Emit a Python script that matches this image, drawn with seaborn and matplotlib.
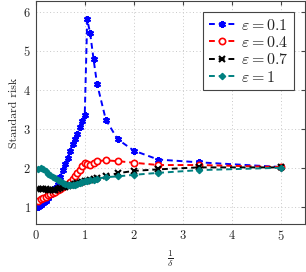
import numpy as np
import pandas as pd
import seaborn as sns
import matplotlib.pyplot as plt

# --- 1. data ---
inv_delta = [0.05, 0.1, 0.15, 0.2, 0.25, 0.3, 0.35, 0.4, 0.45, 0.5,
             0.55, 0.6, 0.65, 0.7, 0.75, 0.8, 0.85, 0.9, 0.95, 1.0,
             1.05, 1.11, 1.18, 1.25, 1.43, 1.67, 2.0, 2.5, 3.33, 5.0]

risk_eps_01 = [1.02, 1.06, 1.11, 1.17, 1.24, 1.31, 1.39, 1.50, 1.64, 1.78,
               1.95, 2.10, 2.25, 2.43, 2.62, 2.75, 2.88, 3.05, 3.20, 3.37,
               5.80, 5.45, 4.78, 4.16, 3.24, 2.74, 2.45, 2.22, 2.15, 2.03]
risk_eps_04 = [1.15, 1.20, 1.23, 1.27, 1.31, 1.35, 1.37, 1.40, 1.44, 1.48,
               1.52, 1.56, 1.60, 1.64, 1.72, 1.80, 1.88, 1.95, 2.05, 2.12,
               2.10, 2.08, 2.13, 2.18, 2.20, 2.18, 2.14, 2.08, 2.08, 2.03]
risk_eps_07 = [1.47, 1.48, 1.47, 1.46, 1.45, 1.44, 1.44, 1.45, 1.47, 1.49,
               1.51, 1.52, 1.54, 1.56, 1.57, 1.59, 1.61, 1.63, 1.65, 1.67,
               1.68, 1.70, 1.72, 1.74, 1.80, 1.87, 1.93, 1.97, 2.02, 2.02]
risk_eps_1 = [1.98, 2.01, 1.97, 1.92, 1.86, 1.82, 1.78, 1.74, 1.70, 1.66,
              1.63, 1.60, 1.58, 1.57, 1.57, 1.58, 1.60, 1.62, 1.64, 1.66,
              1.67, 1.69, 1.71, 1.73, 1.77, 1.79, 1.83, 1.88, 1.95, 2.01]

labels = [r'$\varepsilon = 0.1$', r'$\varepsilon = 0.4$',
          r'$\varepsilon = 0.7$', r'$\varepsilon = 1$']
series = [risk_eps_01, risk_eps_04, risk_eps_07, risk_eps_1]

# --- 2. style ---
sns.set_style('white')
plt.rcParams['font.family'] = ['cmr10', 'DejaVu Serif']
plt.rcParams['mathtext.fontset'] = 'cm'
plt.rcParams['axes.formatter.use_mathtext'] = True

colors = ['blue', 'red', 'black', '#008080']
styles = [
    dict(marker=(6, 2, 0), markersize=5, markeredgewidth=1.5, markerfacecolor='blue'),
    dict(marker='o', markersize=4.5, markeredgewidth=1.2, markerfacecolor='white'),
    dict(marker='x', markersize=4, markeredgewidth=1.5),
    dict(marker='D', markersize=3.2, markeredgewidth=1.0, markerfacecolor='#008080'),
]

# --- 3. plot ---
fig = plt.figure(figsize=(3.06, 2.72), dpi=100)
ax = fig.add_axes([0.117, 0.176, 0.88, 0.820])

for y, lab, c, st in zip(series, labels, colors, styles):
    df = pd.DataFrame({'x': inv_delta, 'y': y})
    sns.lineplot(data=df, x='x', y='y', ax=ax, label=lab, color=c, linewidth=1.4)
    line = ax.lines[-1]
    line.set(linestyle=(0, (3, 2)), markeredgecolor=c, **st)

ax.set_xlim(0, 5.5)
ax.set_ylim(0.57, 6.27)
ax.set_xticks([0, 1, 2, 3, 4, 5])
ax.set_yticks([1, 2, 3, 4, 5, 6])
ax.grid(True, linestyle=(0, (1, 2.5)), color='#c8c8c8', linewidth=0.7)
ax.tick_params(direction='in', length=3, labelsize=9, top=True, right=True,
               color='#444444')
for s in ax.spines.values():
    s.set_color('#444444')
    s.set_linewidth(0.8)

ax.set_xlabel(r'$\frac{1}{\delta}$', fontsize=10, labelpad=4)
ax.set_ylabel('Standard risk', fontsize=8.5, labelpad=3)

leg = ax.legend(loc='upper right', bbox_to_anchor=(0.959, 0.951), borderaxespad=0,
                fontsize=11.5, fancybox=False, framealpha=1, edgecolor='#444444',
                handlelength=1.6, handletextpad=0.4, borderpad=0.35, labelspacing=0.15)
leg.get_frame().set_linewidth(0.8)

fig.savefig('out.png', dpi=100)
